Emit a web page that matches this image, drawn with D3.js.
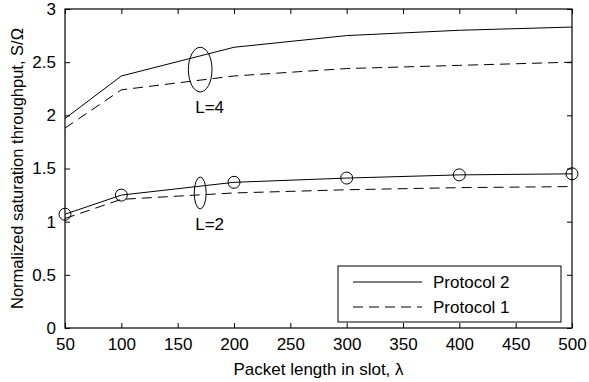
<!DOCTYPE html>
<html>
<head>
<meta charset="utf-8">
<script src="https://cdn.jsdelivr.net/npm/d3@7"></script>
<style>
  body { margin: 0; background: #fff; }
  svg { display: block; }
  text { font-family: "Liberation Sans", Arial, Helvetica, sans-serif; fill: #000; }
</style>
</head>
<body>
<svg id="chart" width="589" height="382"></svg>
<script>
const packetLengths = [50, 100, 200, 300, 400, 500];
const protocol2_L4 = [1.97, 2.37, 2.64, 2.75, 2.80, 2.83];
const protocol1_L4 = [1.88, 2.24, 2.37, 2.44, 2.47, 2.50];
const protocol2_L2 = [1.07, 1.25, 1.37, 1.41, 1.44, 1.45];
const protocol1_L2 = [1.03, 1.21, 1.27, 1.30, 1.32, 1.33];
const xTicks = [50, 100, 150, 200, 250, 300, 350, 400, 450, 500];
const yTicks = [0, 0.5, 1, 1.5, 2, 2.5, 3];
const yTickLabels = ["0", "0.5", "1", "1.5", "2", "2.5", "3"];
const legendLabels = ["Protocol 2", "Protocol 1"];
const annotations = [
  { label: "L=4", x: 170, y: 2.43, rx: 10.5, ry: 0.21 },
  { label: "L=2", x: 170, y: 1.27, rx: 5.3, ry: 0.15 }
];

const svg = d3.select("#chart");
const mLeft = 65, mRight = 572, mTop = 9, mBottom = 328;
const x = d3.scaleLinear().domain([50, 500]).range([mLeft, mRight]);
const y = d3.scaleLinear().domain([0, 3]).range([mBottom, mTop]);

// frame
svg.append("rect").attr("x", mLeft).attr("y", mTop).attr("width", mRight - mLeft).attr("height", mBottom - mTop)
  .attr("fill", "none").attr("stroke", "#000").attr("stroke-width", 1.2);

const tickLen = 5;
const gx = svg.append("g").attr("transform", `translate(0,${mBottom})`)
  .call(d3.axisBottom(x).tickValues(xTicks).tickSizeInner(-tickLen).tickSizeOuter(0).tickPadding(10).tickFormat(d3.format("d")));
gx.select(".domain").remove();
gx.selectAll("text").attr("font-size", 17).attr("font-family", "Liberation Sans, Arial, sans-serif");
const gxt = svg.append("g").attr("transform", `translate(0,${mTop})`)
  .call(d3.axisTop(x).tickValues(xTicks).tickSizeInner(-tickLen).tickSizeOuter(0).tickFormat(""));
gxt.select(".domain").remove();

const gy = svg.append("g").attr("transform", `translate(${mLeft},0)`)
  .call(d3.axisLeft(y).tickValues(yTicks).tickSizeInner(-tickLen).tickSizeOuter(0).tickPadding(9)
    .tickFormat((d, i) => yTickLabels[i]));
gy.select(".domain").remove();
gy.selectAll("text").attr("font-size", 17).attr("font-family", "Liberation Sans, Arial, sans-serif");
const gyr = svg.append("g").attr("transform", `translate(${mRight},0)`)
  .call(d3.axisRight(y).tickValues(yTicks).tickSizeInner(-tickLen).tickSizeOuter(0).tickFormat(""));
gyr.select(".domain").remove();
svg.selectAll(".tick line").attr("stroke", "#000");

// lines
const line = d3.line().x((d, i) => x(packetLengths[i])).y(d => y(d));
function drawLine(data, dashed) {
  svg.append("path").datum(data).attr("d", line).attr("fill", "none").attr("stroke", "#000")
    .attr("stroke-width", 1).attr("stroke-dasharray", dashed ? "10,6" : null);
}
drawLine(protocol2_L4, false);
drawLine(protocol1_L4, true);
drawLine(protocol2_L2, false);
drawLine(protocol1_L2, true);

svg.append("g").selectAll("circle").data(protocol2_L2).join("circle")
  .attr("cx", (d, i) => x(packetLengths[i])).attr("cy", d => y(d)).attr("r", 6)
  .attr("fill", "none").attr("stroke", "#000").attr("stroke-width", 1);

// annotations
annotations.forEach(a => {
  const cx = x(a.x), cy = y(a.y);
  svg.append("ellipse").attr("cx", cx).attr("cy", cy)
    .attr("rx", x(a.x + a.rx) - cx).attr("ry", cy - y(a.y + a.ry))
    .attr("fill", "none").attr("stroke", "#000").attr("stroke-width", 1);
  svg.append("text").attr("x", cx - 5).attr("y", cy + (y(a.y - a.ry) - cy) + 21)
    .attr("font-size", 17).text(a.label);
});

// legend
const lg = svg.append("g");
lg.append("rect").attr("x", 338).attr("y", 266).attr("width", 223).attr("height", 56)
  .attr("fill", "#fff").attr("stroke", "#000").attr("stroke-width", 1);
legendLabels.forEach((lab, i) => {
  const ly = 282 + i * 25;
  lg.append("line").attr("x1", 353).attr("x2", 422).attr("y1", ly).attr("y2", ly)
    .attr("stroke", "#000").attr("stroke-width", 1).attr("stroke-dasharray", i === 1 ? "10,6" : null);
  lg.append("text").attr("x", 433).attr("y", ly + 6).attr("font-size", 17).text(lab);
});

// axis titles
svg.append("text").attr("x", (mLeft + mRight) / 2).attr("y", 375).attr("text-anchor", "middle")
  .attr("font-size", 17).text("Packet length in slot, λ");
svg.append("text").attr("transform", `translate(23,${(mTop + mBottom) / 2}) rotate(-90)`)
  .attr("text-anchor", "middle").attr("font-size", 16.5).text("Normalized saturation throughput, S/Ω");
</script>
</body>
</html>
